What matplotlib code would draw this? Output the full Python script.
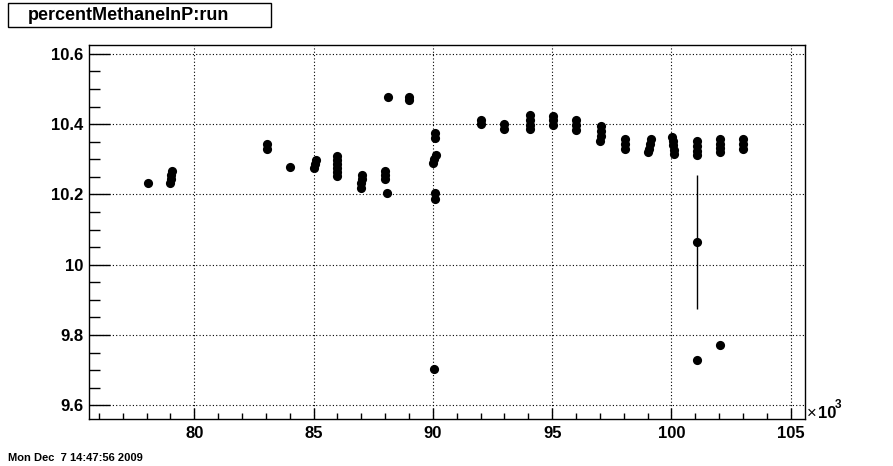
import matplotlib
matplotlib.use("Agg")
import matplotlib.pyplot as plt
from matplotlib.ticker import MultipleLocator, FuncFormatter
from matplotlib.patches import Rectangle

# ---- data ----
run = [78060,
       79000, 79020, 79040, 79060,
       83030, 83040,
       84010,
       85020, 85060, 85110,
       86000, 86000, 86000, 86000, 86000, 86000,
       86990, 87000, 87020, 87040,
       88000, 88000, 88000,
       88100, 88060,
       89000, 89000,
       90100, 90100,
       90000, 90060, 90120,
       90080, 90080,
       90050,
       92020, 92020,
       92980, 92980,
       94070, 94070, 94070, 94070,
       95040, 95040, 95040,
       96000, 96000, 96000,
       97050, 97050, 97030, 97020,
       98050, 98050, 98050,
       99150, 99100, 99050, 99000,
       100030, 100050, 100070, 100100, 100120,
       101070, 101070, 101070, 101070,
       101070,
       101080,
       102040, 102040, 102040, 102040,
       102030,
       103000, 103000, 103000]

methane = [10.231,
           10.232, 10.244, 10.255, 10.266,
           10.343, 10.330,
           10.277,
           10.275, 10.287, 10.299,
           10.252, 10.263, 10.275, 10.286, 10.298, 10.309,
           10.218, 10.232, 10.244, 10.255,
           10.266, 10.255, 10.244,
           10.477, 10.204,
           10.477, 10.468,
           10.374, 10.360,
           10.289, 10.300, 10.312,
           10.204, 10.187,
           9.703,
           10.411, 10.400,
           10.400, 10.386,
           10.426, 10.411, 10.397, 10.386,
           10.423, 10.411, 10.397,
           10.411, 10.397, 10.383,
           10.394, 10.380, 10.366, 10.352,
           10.357, 10.343, 10.329,
           10.357, 10.343, 10.329, 10.320,
           10.363, 10.352, 10.340, 10.326, 10.315,
           10.352, 10.337, 10.323, 10.312,
           10.064,
           9.729,
           10.357, 10.343, 10.332, 10.320,
           9.771,
           10.357, 10.343, 10.329]

errors = [0.0] * len(run)
errors[run.index(101070) + 4] = 0.19

xticks = [80000, 85000, 90000, 95000, 100000, 105000]
yticks = [9.6, 9.8, 10.0, 10.2, 10.4, 10.6]
title = "percentMethaneInP:run"
datestamp = "Mon Dec  7 14:47:56 2009"

# ---- figure ----
W, H = 893, 466
fig = plt.figure(figsize=(W / 100, H / 100), dpi=100)
plt.rcParams['font.family'] = ['Liberation Sans', 'DejaVu Sans']

L, R, T, B = 89, 805, 45, 419
ax = fig.add_axes([L / W, 1 - B / H, (R - L) / W, (B - T) / H])

ax.errorbar(run, methane, yerr=errors, fmt='o', color='black',
            markersize=6.6, elinewidth=1, capsize=0, markeredgewidth=0)

ax.set_xlim(75586, 105600)
ax.set_ylim(9.561, 10.625)

ax.set_xticks(xticks)
ax.set_yticks(yticks)
ax.xaxis.set_minor_locator(MultipleLocator(1000))
ax.yaxis.set_minor_locator(MultipleLocator(0.05))
ax.xaxis.set_major_formatter(FuncFormatter(lambda v, p: f"{v/1000:g}"))
ax.yaxis.set_major_formatter(FuncFormatter(lambda v, p: f"{v:g}"))

ax.tick_params(axis='x', which='major', direction='in', length=8, width=1,
               top=False, labelsize=12, pad=5)
ax.tick_params(axis='x', which='minor', direction='in', length=4.5, width=1, top=False)
ax.tick_params(axis='y', which='major', direction='in', length=15, width=1,
               right=False, labelsize=12, pad=4)
ax.tick_params(axis='y', which='minor', direction='in', length=8, width=1, right=False)
for lab in ax.get_xticklabels() + ax.get_yticklabels():
    lab.set_fontweight('bold')

ax.grid(True, which='major', color='black', linestyle=(0, (1, 2)), linewidth=0.8)
ax.set_axisbelow(True)
for s in ax.spines.values():
    s.set_linewidth(1)
    s.set_color('black')

# x10^3 multiplier
fig.text(807 / W, 1 - 418 / H, "×", fontsize=12, ha='left', va='baseline')
fig.text(818 / W, 1 - 418 / H, "10", fontsize=12, fontweight='bold', ha='left', va='baseline')
fig.text(835 / W, 1 - 408 / H, "3", fontsize=8.5, fontweight='bold', ha='left', va='baseline')

# title box
fig.patches.append(Rectangle((8 / W, 1 - 27 / H), (271 - 8) / W, 24 / H,
                             transform=fig.transFigure, facecolor='white',
                             edgecolor='black', linewidth=1))
fig.text(28 / W, 1 - 15 / H, title, fontsize=13, fontweight='bold',
         ha='left', va='center')

# date stamp
fig.text(8 / W, 1 - 461 / H, datestamp, fontsize=8, fontweight='bold',
         ha='left', va='baseline')

fig.savefig("out.png", dpi=100)
